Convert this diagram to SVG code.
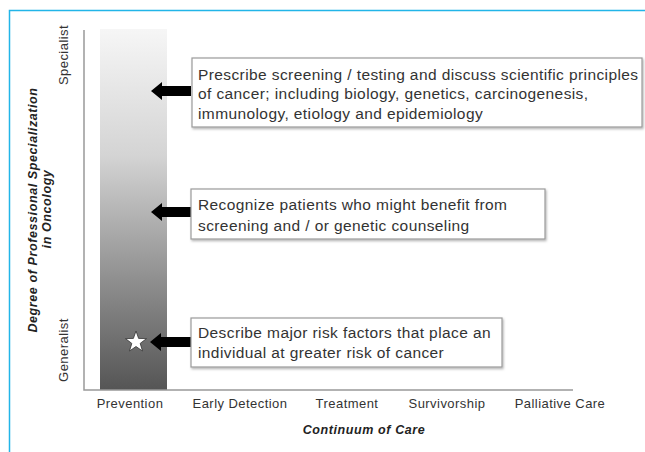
<svg xmlns="http://www.w3.org/2000/svg" width="645" height="452" viewBox="0 0 645 452">
<defs>
<linearGradient id="grad" x1="0" y1="0" x2="0" y2="1">
<stop offset="0" stop-color="#f6f6f6"/>
<stop offset="0.35" stop-color="#d4d4d4"/>
<stop offset="0.7" stop-color="#8e8e8e"/>
<stop offset="1" stop-color="#555555"/>
</linearGradient>
<filter id="sh" x="-5%" y="-10%" width="110%" height="130%">
<feDropShadow dx="1" dy="1.5" stdDeviation="1" flood-color="#000" flood-opacity="0.3"/>
</filter>
</defs>
<style>
.t{font-family:"Liberation Sans",Arial,sans-serif;fill:#333;}
.box{fill:#fff;stroke:#9a9a9a;stroke-width:1.2;filter:url(#sh);}
.bt{font-size:15.5px;letter-spacing:0.4px;}
.ax{font-size:13px;letter-spacing:0.45px;}
.lab{font-size:12.5px;font-weight:bold;font-style:italic;fill:#222;letter-spacing:0.6px;}
.arrow{fill:#000;}
</style>
<rect x="0" y="0" width="645" height="452" fill="#fff"/>
<path d="M9.5 452 V10.5 H645" fill="none" stroke="#22b5e8" stroke-width="1.5"/>
<g id="axes">
<rect x="100" y="29" width="67" height="361" fill="url(#grad)"/>
<path d="M84 30 V390 H573" fill="none" stroke="#999" stroke-width="1.5"/>
</g>
<g id="ylabels">
<text class="t lab" text-anchor="middle" transform="translate(37,210) rotate(-90)">Degree of Professional Specialization</text>
<text class="t lab" text-anchor="middle" transform="translate(51,209) rotate(-90)">in Oncology</text>
<text class="t ax" text-anchor="middle" transform="translate(68,55) rotate(-90)">Specialist</text>
<text class="t ax" text-anchor="middle" transform="translate(68,350) rotate(-90)">Generalist</text>
</g>
<g id="xlabels">
<text class="t ax" x="130" y="408" text-anchor="middle">Prevention</text>
<text class="t ax" x="240" y="408" text-anchor="middle">Early Detection</text>
<text class="t ax" x="347" y="408" text-anchor="middle">Treatment</text>
<text class="t ax" x="447" y="408" text-anchor="middle">Survivorship</text>
<text class="t ax" x="560" y="408" text-anchor="middle">Palliative Care</text>
<text class="t lab" x="364" y="434" text-anchor="middle">Continuum of Care</text>
</g>
<g id="star">
<polygon points="136,331 138.6,338.4 146.5,338.6 140.2,343.4 142.5,351 136,346.5 129.5,351 131.8,343.4 125.5,338.6 133.4,338.4" fill="#fff" stroke="#333" stroke-width="0.8"/>
</g>
<g id="connectors">
<polygon class="arrow" points="151,91 162,82 162,86 191,86 191,96 162,96 162,100"/>
<polygon class="arrow" points="151,212 162,203 162,207 191,207 191,217 162,217 162,221"/>
<polygon class="arrow" points="150,342 161,333 161,337 191,337 191,347 161,347 161,351"/>
</g>
<g id="box1">
<rect class="box" x="192" y="58" width="450" height="69"/>
<text class="t bt" x="198" y="80">Prescribe screening / testing and discuss scientific principles</text>
<text class="t bt" x="198" y="99">of cancer; including biology, genetics, carcinogenesis,</text>
<text class="t bt" x="198" y="119">immunology, etiology and epidemiology</text>
</g>
<g id="box2">
<rect class="box" x="191" y="189" width="354" height="50"/>
<text class="t bt" x="198" y="210">Recognize patients who might benefit from</text>
<text class="t bt" x="198" y="231">screening and / or genetic counseling</text>
</g>
<g id="box3">
<rect class="box" x="191" y="318" width="311" height="49"/>
<text class="t bt" x="198" y="338">Describe major risk factors that place an</text>
<text class="t bt" x="198" y="358">individual at greater risk of cancer</text>
</g>
</svg>
